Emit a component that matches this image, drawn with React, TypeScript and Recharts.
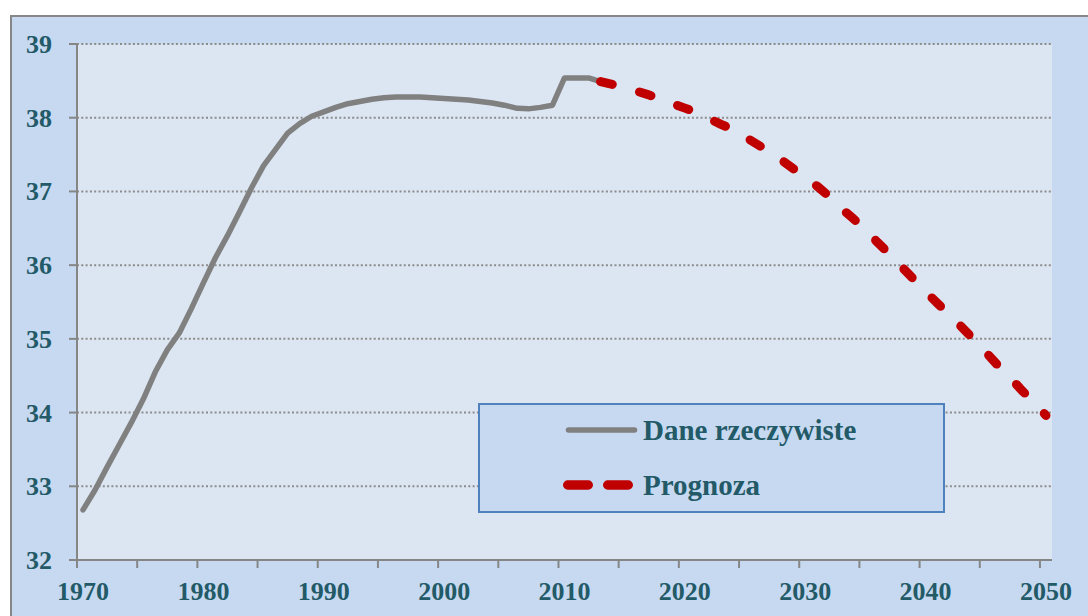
import React from 'react';
import { LineChart, Line, XAxis, YAxis, CartesianGrid, Legend } from 'recharts';

const years = [
  1970, 1971, 1972, 1973, 1974, 1975, 1976, 1977, 1978, 1979,
  1980, 1981, 1982, 1983, 1984, 1985, 1986, 1987, 1988, 1989,
  1990, 1991, 1992, 1993, 1994, 1995, 1996, 1997, 1998, 1999,
  2000, 2001, 2002, 2003, 2004, 2005, 2006, 2007, 2008, 2009,
  2010, 2011, 2012, 2013, 2014, 2015, 2016, 2017, 2018, 2019,
  2020, 2021, 2022, 2023, 2024, 2025, 2026, 2027, 2028, 2029,
  2030, 2031, 2032, 2033, 2034, 2035, 2036, 2037, 2038, 2039,
  2040, 2041, 2042, 2043, 2044, 2045, 2046, 2047, 2048, 2049,
  2050,
];

// Dane rzeczywiste 1970-2013
const actualValues = [
  32.68, 32.95, 33.26, 33.56, 33.86, 34.18, 34.55, 34.85, 35.08, 35.41,
  35.76, 36.10, 36.40, 36.72, 37.05, 37.35, 37.57, 37.79, 37.92, 38.02,
  38.08, 38.14, 38.19, 38.22, 38.25, 38.27, 38.28, 38.28, 38.28, 38.27,
  38.26, 38.25, 38.24, 38.22, 38.20, 38.17, 38.13, 38.12, 38.14, 38.17,
  38.54, 38.54, 38.54, 38.49,
];

// Prognoza 2013-2050
const forecastStart = 2013;
const forecastValues = [
  38.49, 38.45, 38.41, 38.36, 38.31, 38.25, 38.19,
  38.13, 38.07, 37.99, 37.91, 37.84, 37.74, 37.64, 37.54, 37.43, 37.31,
  37.19, 37.07, 36.93, 36.77, 36.63, 36.48, 36.31, 36.15, 35.98, 35.81,
  35.64, 35.48, 35.32, 35.16, 34.99, 34.82, 34.64, 34.48, 34.30, 34.14,
  33.96,
];

const yTicks = [32, 33, 34, 35, 36, 37, 38, 39];
const xLabelTicks = [1970, 1980, 1990, 2000, 2010, 2020, 2030, 2040, 2050];
const xBoundaryTicks = [
  1969.5, 1974.5, 1979.5, 1984.5, 1989.5, 1994.5, 1999.5, 2004.5,
  2009.5, 2014.5, 2019.5, 2024.5, 2029.5, 2034.5, 2039.5, 2044.5, 2049.5,
];
const xDomain = [1969.5, 2050.5];

const data = years.map((year, i) => ({
  year,
  actual: i < actualValues.length ? actualValues[i] : null,
  forecast: year >= forecastStart ? forecastValues[year - forecastStart] : null,
}));

const TEXT = '#235a68';
const FONT = '"Liberation Serif", "Times New Roman", serif';
const AXIS = '#868686';

const XLabel = (props: any) => (
  <text
    x={props.x}
    y={props.y}
    dy={20}
    textAnchor="middle"
    fill={TEXT}
    fontFamily={FONT}
    fontWeight="bold"
    fontSize={26}
  >
    {props.payload.value}
  </text>
);

const YLabel = (props: any) => (
  <text
    x={props.x}
    y={props.y}
    dy={9}
    textAnchor="end"
    fill={TEXT}
    fontFamily={FONT}
    fontWeight="bold"
    fontSize={26}
  >
    {props.payload.value}
  </text>
);

const LegendBox = () => (
  <div
    style={{
      width: 467,
      height: 110,
      boxSizing: 'border-box',
      border: '2px solid #4f81bd',
      background: '#c6d9f1',
    }}
  >
    <svg width={463} height={106} style={{ display: 'block' }}>
      <line x1={88.5} y1={25} x2={154.5} y2={25} stroke="#808080" strokeWidth={5.5} strokeLinecap="round" />
      <text x={163} y={35} fill={TEXT} fontFamily={FONT} fontWeight="bold" fontSize={29}>
        Dane rzeczywiste
      </text>
      <line x1={87.75} y1={80} x2={148.25} y2={80} stroke="#c00000" strokeWidth={9.5} strokeLinecap="round" strokeDasharray="20.5 19.5" />
      <text x={163} y={90} fill={TEXT} fontFamily={FONT} fontWeight="bold" fontSize={29}>
        Prognoza
      </text>
    </svg>
  </div>
);

export default function App() {
  return (
    <div
      style={{
        position: 'fixed',
        left: 10,
        top: 15,
        width: 1080,
        height: 603,
        boxSizing: 'border-box',
        border: '2px solid #878787',
        background: '#c6d9f1',
      }}
    >
      <LineChart
        width={1076}
        height={599}
        data={data}
        margin={{ top: 27, right: 36, bottom: 0, left: 0 }}
      >
        <CartesianGrid
          horizontal
          vertical={false}
          fill="#dce6f2"
          fillOpacity={1}
          stroke="#8c8c8c"
          strokeWidth={2}
          strokeDasharray="2 2.3"
          xAxisId="bounds"
        />
        <XAxis
          xAxisId="bounds"
          dataKey="year"
          type="number"
          domain={xDomain}
          ticks={xBoundaryTicks}
          allowDataOverflow
          height={1}
          tickFormatter={() => ''}
          tickSize={8}
          stroke={AXIS}
          strokeWidth={2}
          axisLine={{ stroke: AXIS, strokeWidth: 2 }}
          tickLine={{ stroke: AXIS, strokeWidth: 2 }}
        />
        <XAxis
          xAxisId="labels"
          dataKey="year"
          type="number"
          domain={xDomain}
          ticks={xLabelTicks}
          allowDataOverflow
          height={55}
          axisLine={false}
          tickLine={false}
          tickSize={8}
          tickMargin={11}
          tick={<XLabel />}
        />
        <YAxis
          type="number"
          domain={[32, 39]}
          ticks={yTicks}
          width={65}
          tickSize={8}
          tickMargin={17}
          stroke={AXIS}
          strokeWidth={2}
          axisLine={{ stroke: AXIS, strokeWidth: 2 }}
          tickLine={{ stroke: AXIS, strokeWidth: 2 }}
          tick={<YLabel />}
        />
        <Legend
          layout="vertical"
          align="center"
          verticalAlign="middle"
          content={() => <LegendBox />}
          wrapperStyle={{ left: 466, top: 386, width: 467, height: 110 }}
        />
        <Line
          xAxisId="bounds"
          type="linear"
          dataKey="actual"
          name="Dane rzeczywiste"
          stroke="#808080"
          strokeWidth={5.5}
          strokeLinecap="round"
          strokeLinejoin="round"
          dot={false}
          activeDot={false}
          isAnimationActive={false}
        />
        <Line
          xAxisId="bounds"
          type="linear"
          dataKey="forecast"
          name="Prognoza"
          stroke="#c00000"
          strokeWidth={9}
          strokeLinecap="round"
          strokeLinejoin="round"
          strokeDasharray="12 28.3"
          dot={false}
          activeDot={false}
          isAnimationActive={false}
        />
      </LineChart>
    </div>
  );
}
